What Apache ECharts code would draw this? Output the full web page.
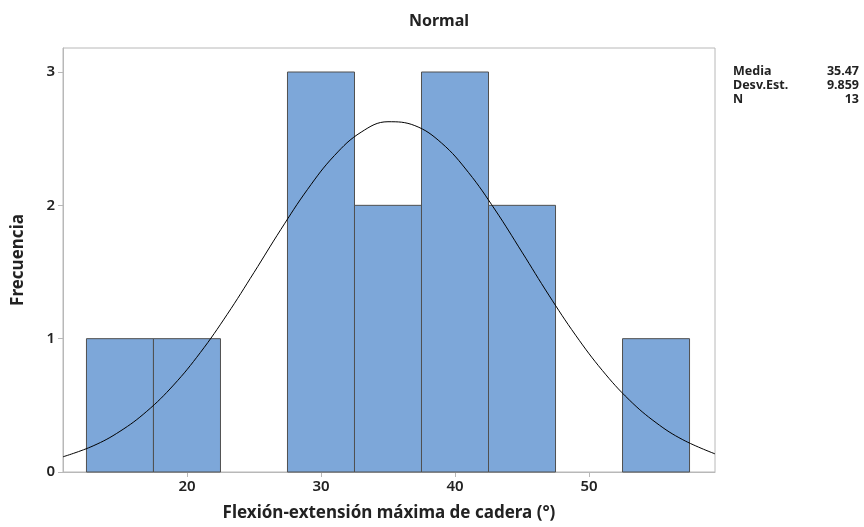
<!DOCTYPE html>
<html><head><meta charset="utf-8">
<script src="https://cdn.jsdelivr.net/npm/echarts@6/dist/echarts.min.js"></script>
<style>html,body{margin:0;padding:0;background:#fff}#c{width:864px;height:527px}</style>
</head><body><div id="c"></div>
<script>
// Histogram bins (lower edge, upper edge) and counts
const binStarts = [12.5, 17.5, 22.5, 27.5, 32.5, 37.5, 42.5, 47.5, 52.5];
const binEnds   = [17.5, 22.5, 27.5, 32.5, 37.5, 42.5, 47.5, 52.5, 57.5];
const counts    = [1, 1, 0, 3, 2, 3, 2, 0, 1];
// Fitted normal curve
const curveX = [10.75, 13, 15, 17, 19, 21, 23, 25, 27, 29, 31, 33, 35, 37, 39, 41, 43, 45, 47, 49, 51, 53, 55, 57, 59.4];
const curveY = [0.114, 0.196, 0.305, 0.455, 0.652, 0.896, 1.182, 1.496, 1.818, 2.120, 2.373, 2.549, 2.627, 2.598, 2.467, 2.247, 1.965, 1.649, 1.327, 1.026, 0.761, 0.541, 0.370, 0.242, 0.136];
const xTicks = [20, 30, 40, 50];
const yTicks = [0, 1, 2, 3];
const statLabels = ['Media', 'Desv.Est.', 'N'];
const statValues = ['35.47', '9.859', '13'];

const FONT = '"Noto Sans", "Open Sans", sans-serif';
const chart = echarts.init(document.getElementById('c'), null, {renderer: 'canvas'});

const barData = binStarts.map((s, i) => [s, binEnds[i], counts[i]]);
const curveData = curveX.map((x, i) => [x, curveY[i]]);

const graphics = [];
statLabels.forEach((l, i) => {
  graphics.push({type: 'text', left: 733, top: 65 + i * 14,
    style: {text: l, font: 'bold 12.5px ' + FONT, fill: '#222'}});
  graphics.push({type: 'text', right: 5, top: 65 + i * 14,
    style: {text: statValues[i], font: 'bold 12.5px ' + FONT, fill: '#222', textAlign: 'right'}});
});

chart.setOption({
  animation: false,
  backgroundColor: '#fff',
  title: {text: 'Normal', left: 434, top: 8, textAlign: 'center',
    textStyle: {fontFamily: FONT, fontWeight: 'bold', fontSize: 16, color: '#222'}},
  grid: {left: 63, right: 149, top: 48, bottom: 52, show: true, borderColor: '#b8b8b8', borderWidth: 1},
  xAxis: {
    type: 'value', min: 10.75, max: 59.4,
    interval: 10,
    axisLine: {show: true, lineStyle: {color: '#b8b8b8'}},
    axisTick: {show: true, length: 5, lineStyle: {color: '#b8b8b8'}, customValues: xTicks},
    axisLabel: {fontFamily: FONT, fontSize: 15, fontWeight: 600, color: '#222', margin: 7, customValues: xTicks},
    splitLine: {show: false},
    name: 'Flexión-extensión máxima de cadera (°)', nameLocation: 'middle', nameGap: 33,
    nameTextStyle: {fontFamily: FONT, fontWeight: 'bold', fontSize: 17, color: '#222'}
  },
  yAxis: {
    type: 'value', min: 0, max: 3.18,
    axisLine: {show: true, lineStyle: {color: '#b8b8b8'}},
    axisTick: {show: true, length: 5, lineStyle: {color: '#b8b8b8'}, customValues: yTicks},
    axisLabel: {fontFamily: FONT, fontSize: 15, fontWeight: 600, color: '#222', margin: 8, customValues: yTicks},
    splitLine: {show: false},
    name: 'Frecuencia', nameLocation: 'middle', nameGap: 36,
    nameTextStyle: {fontFamily: FONT, fontWeight: 'bold', fontSize: 17, color: '#222'}
  },
  graphic: graphics,
  series: [
    {
      type: 'custom',
      data: barData,
      encode: {x: [0, 1], y: 2},
      renderItem: function (params, api) {
        const h = api.value(2);
        if (!h) return null;
        const p0 = api.coord([api.value(0), h]);
        const p1 = api.coord([api.value(1), 0]);
        return {
          type: 'rect',
          shape: {x: p0[0], y: p0[1], width: p1[0] - p0[0], height: p1[1] - p0[1]},
          style: {fill: '#7da7d9', stroke: '#505050', lineWidth: 1}
        };
      },
      z: 2
    },
    {
      type: 'line', data: curveData, smooth: 0.4, symbol: 'none',
      lineStyle: {color: '#000', width: 1}, z: 3
    }
  ]
});
</script></body></html>
